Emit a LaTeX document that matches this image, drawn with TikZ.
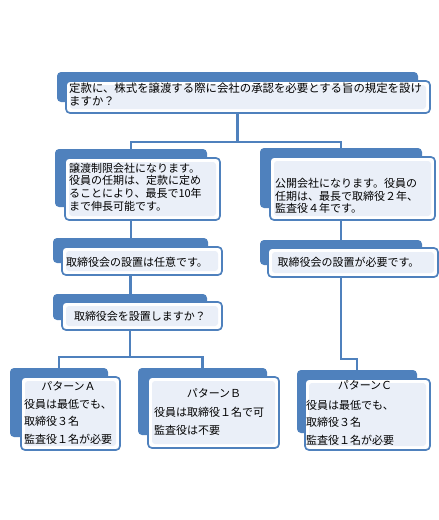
\documentclass[tikz,border=0pt]{standalone}
\usepackage{fontspec}
\setmainfont{Noto Sans CJK JP}
\definecolor{ofblue}{HTML}{4F81BD}
\definecolor{innerfill}{HTML}{EAEFF8}
\begin{document}
\begin{tikzpicture}[x=1pt,y=-1pt,
  back/.style={fill=ofblue, rounded corners=4pt, inner sep=0pt, outer sep=0pt, anchor=north west},
  front/.style={draw=ofblue, line width=1.7pt, fill=white, rounded corners=4pt, inner sep=0pt, outer sep=0pt, anchor=north west,
    path picture={\fill[innerfill, rounded corners=3pt] ([xshift=4pt,yshift=4pt]path picture bounding box.south west) rectangle ([xshift=-4pt,yshift=-4pt]path picture bounding box.north east);}},
  conn/.style={draw=ofblue, line width=2.2pt},
  txt/.style={inner sep=0pt, font=\fontsize{11}{12.6}\selectfont, align=left},
  ptxt/.style={inner sep=0pt, font=\fontsize{11}{12}\selectfont, anchor=west},
]
\useasboundingbox (0,0) rectangle (439,520);

% back shapes
\node[back, minimum width=361pt, minimum height=30pt] (qb) at (57,72) {};
\node[back, minimum width=152pt, minimum height=58pt] (l1b) at (55,149) {};
\node[back, minimum width=162pt, minimum height=60pt] (r1b) at (260,148) {};
\node[back, minimum width=155pt, minimum height=25pt] (l2b) at (53,238) {};
\node[back, minimum width=162pt, minimum height=25pt] (r2b) at (260,240) {};
\node[back, minimum width=154pt, minimum height=26pt] (l3b) at (53,294) {};
\node[back, minimum width=98pt, minimum height=69pt] (ab) at (10,368) {};
\node[back, minimum width=129pt, minimum height=67pt] (bb) at (138,368) {};
\node[back, minimum width=120pt, minimum height=63pt] (cb) at (297,370) {};

% connectors
\coordinate (bus1) at (0,142);
\coordinate (bus2) at (0,357);
\coordinate (bus3) at (0,359);
\draw[conn] (qb.south) -- (qb.south |- bus1) -| (l1b.north);
\draw[conn] (qb.south) -- (qb.south |- bus1) -| (r1b.north);
\draw[conn] (l1b.south) -- (l1b.south |- l2b.north);
\draw[conn] (l2b.south) -- (l2b.south |- l3b.north);
\draw[conn] (l3b.south) -- (l3b.south |- bus2) -| (ab.north);
\draw[conn] (l3b.south) -- (l3b.south |- bus2) -| (bb.north);
\draw[conn] (r1b.south) -- (r1b.south |- r2b.north);
\draw[conn] (r2b.south) -- (r2b.south |- bus3) -| (cb.north);

% front shapes
\node[front, minimum width=364pt, minimum height=32pt] (q) at (66,81) {};
\node[front, minimum width=155pt, minimum height=62pt] (l1) at (65,158) {};
\node[front, minimum width=165pt, minimum height=63pt] (r1) at (270,157) {};
\node[front, minimum width=160pt, minimum height=28pt] (l2) at (62,247) {};
\node[front, minimum width=170pt, minimum height=29pt] (r2) at (268,248) {};
\node[front, minimum width=160pt, minimum height=28pt] (l3) at (62,302) {};
\node[front, minimum width=99pt, minimum height=73pt] (a) at (21,377) {};
\node[front, minimum width=131pt, minimum height=71pt] (b) at (148,377) {};
\node[front, minimum width=125pt, minimum height=71pt] (c) at (305,379) {};

% texts
\node[txt, anchor=west, font=\fontsize{11.4}{13}\selectfont] (qt) at (69,94.5) {定款に、株式を譲渡する際に会社の承認を必要とする旨の規定を設け\\ますか？};
\node[txt, anchor=west] (l1t) at (69,187) {譲渡制限会社になります。\\役員の任期は、定款に定め\\ることにより、最長で10年\\まで伸長可能です。};
\node[txt, anchor=west] (r1t) at (275,196) {公開会社になります。役員の\\任期は、最長で取締役２年、\\監査役４年です。};
\node[txt] (l2t) at (137,262) {取締役会の設置は任意です。};
\node[txt] (r2t) at (348.5,262) {取締役会の設置が必要です。};
\node[txt] (l3t) at (140,316) {取締役会を設置しますか？};

\node[txt] (at0) at (68.5,386) {パターンＡ};
\node[ptxt] (at1) at (24,404) {役員は最低でも、};
\node[ptxt] (at2) at (24,421) {取締役３名};
\node[ptxt] (at3) at (24,439) {監査役１名が必要};

\node[txt] (bt0) at (214,393) {パターンＢ};
\node[ptxt] (bt1) at (154,412) {役員は取締役１名で可};
\node[ptxt] (bt2) at (154,430) {監査役は不要};

\node[txt] (ct0) at (365,385) {パターンＣ};
\node[ptxt] (ct1) at (306,405) {役員は最低でも、};
\node[ptxt] (ct2) at (306,422) {取締役３名};
\node[ptxt] (ct3) at (306,440) {監査役１名が必要};
\end{tikzpicture}
\end{document}
